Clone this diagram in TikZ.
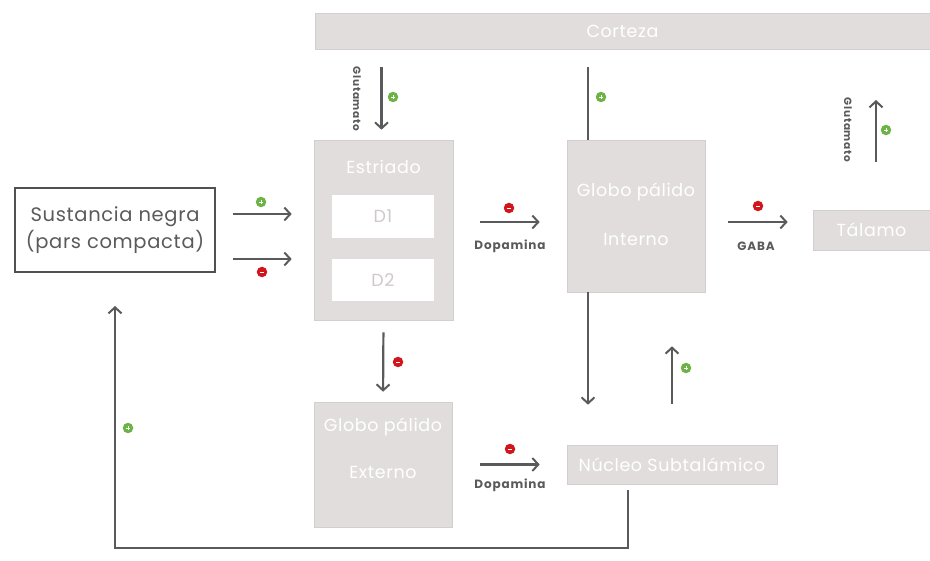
\documentclass[tikz,border=0pt]{standalone}
\usepackage{fontspec}
\setmainfont{Poppins}[LetterSpace=3.5]
\newfontfamily\lblfont[LetterSpace=7]{Poppins}
\usetikzlibrary{arrows.meta,calc}

\definecolor{boxgray}{HTML}{E1DDDC}
\definecolor{linegray}{HTML}{5A5A5C}
\definecolor{plusgreen}{HTML}{6AB344}
\definecolor{minusred}{HTML}{D0161C}

\begin{document}
\begin{tikzpicture}[x=1pt, y=-1pt, line cap=butt, line join=miter,
    graybox/.style={fill=boxgray, draw=boxgray!85!gray, line width=0.6pt, text=white, font=\fontsize{17.5}{20}\selectfont, inner sep=0pt},
    boxtext/.style={text=white, font=\fontsize{17.5}{20}\selectfont, inner sep=0pt},
    whitebox/.style={fill=white, text=boxgray!80!gray, font=\fontsize{17.5}{20}\selectfont, inner sep=0pt},
    ln/.style={draw=linegray, line width=2.2pt},
    arr/.style={ln, -{Straight Barb[length=6pt, width=13pt, line width=2pt]}},
    lbl/.style={text=linegray, font=\fontsize{12}{14}\lblfont\bfseries},
    vlbl/.style={text=linegray, font=\fontsize{10.5}{12}\lblfont\bfseries, rotate=-90},
    sign/.style={circle, inner sep=0pt, minimum size=10.5pt},
    plus/.style={sign, fill=plusgreen, path picture={
        \draw[white, line width=0.8pt] ([xshift=-2.2pt]path picture bounding box.center) -- ([xshift=2.2pt]path picture bounding box.center);
        \draw[white, line width=0.8pt] ([yshift=-2.2pt]path picture bounding box.center) -- ([yshift=2.2pt]path picture bounding box.center);}},
    minus/.style={sign, fill=minusred, path picture={
        \draw[white, line width=0.8pt] ([xshift=-2.2pt]path picture bounding box.center) -- ([xshift=2.2pt]path picture bounding box.center);}}]
    \useasboundingbox (0,0) rectangle (930,561);

    % boxes
    \node[graybox, minimum width=615, minimum height=36] (corteza) at (622.5,31) {Corteza};
    \node[draw=linegray!90!black, line width=2pt, fill=white, text=linegray, align=center, inner sep=0pt,
          minimum width=200, minimum height=84, font=\fontsize{19.5}{27}\selectfont] (sn) at (115,230) {Sustancia negra\\(pars compacta)};
    \node[graybox, minimum width=139, minimum height=180] (estriado) at (383.5,230) {};
    \node[boxtext] (estriadolbl) at (383.5,167) {Estriado};
    \node[whitebox, minimum width=102, minimum height=43] (d1) at (383,216.5) {D1};
    \node[whitebox, minimum width=102, minimum height=42] (d2) at (383,280) {D2};
    \node[graybox, minimum width=138, minimum height=152] (gpi) at (636,216) {};
    \node[boxtext] (gpilbl1) at (636,192) {Globo pálido};
    \node[boxtext] (gpilbl2) at (636,239) {Interno};
    \node[graybox, minimum width=117, minimum height=40] (talamo) at (871.5,230) {Tálamo};
    \node[graybox, minimum width=138, minimum height=125] (gpe) at (383,464.5) {};
    \node[boxtext] (gpelbl1) at (383,427) {Globo pálido};
    \node[boxtext] (gpelbl2) at (383,472) {Externo};
    \node[graybox, minimum width=210, minimum height=39] (nst) at (672,464.5) {Núcleo Subtalámico};

    % connectors
    \draw[arr, shorten <=17pt, shorten >=22pt] ([yshift=16pt]sn.east) -- ([yshift=16pt]sn.east -| estriado.west);
    \draw[arr, shorten <=17pt, shorten >=22pt] ([yshift=-29pt]sn.east) -- ([yshift=-29pt]sn.east -| estriado.west);
    \draw[arr, shorten <=18pt, shorten >=10pt] ([xshift=-2pt]estriado.north |- corteza.south) -- ([xshift=-2pt]estriado.north);
    \draw[arr, shorten <=27pt, shorten >=27pt] ([yshift=8pt]estriado.east) -- ([yshift=8pt]estriado.east -| gpi.west);
    \coordinate (gpiin) at ([xshift=-48pt]gpi.north);
    \coordinate (gpiout) at ([xshift=-48pt]gpi.south);
    \draw[ln, shorten <=18pt] (gpiin |- corteza.south) -- (gpiin);
    \draw[arr, shorten >=40pt] (gpiout) -- (gpiout |- nst.north);
    \draw[arr, shorten <=23pt, shorten >=25pt] ([yshift=-6pt]gpi.east) -- ([yshift=8pt]talamo.west);
    \coordinate (gluup) at (876,100);
    \draw[arr, shorten <=48pt] ([xshift=4.5pt]talamo.north) -- (gluup);
    \draw[arr, shorten <=12pt, shorten >=10pt] (estriado.south) -- (gpe.north);
    \draw[arr, shorten <=28pt, shorten >=27pt] (gpe.east) -- (nst.west);
    \draw[arr, shorten <=41pt, shorten >=54pt] (nst.north) -- (nst.north |- gpi.south);
    \coordinate (fbcorner) at (115,548);
    \draw[arr, shorten <=6pt, shorten >=33pt] ([xshift=-44pt]nst.south) |- (fbcorner) -- (sn.south);

    % signs
    \node[plus] (s1) at (261,202) {};
    \node[minus] (s2) at (262,272) {};
    \node[plus] (s3) at (393,97) {};
    \node[minus] (s4) at (509,208) {};
    \node[plus] (s5) at (601,97) {};
    \node[minus] (s6) at (758,206) {};
    \node[plus] (s7) at (886,130) {};
    \node[minus] (s8) at (398,362) {};
    \node[minus] (s9) at (510,449) {};
    \node[plus] (s10) at (686,368) {};
    \node[plus] (s11) at (128,428) {};

    % labels
    \node[lbl] (l1) at (510,246) {Dopamina};
    \node[lbl] (l2) at (756,246) {GABA};
    \node[lbl] (l3) at (510,485) {Dopamina};
    \node[vlbl] (l4) at (357,99) {Glutamato};
    \node[vlbl] (l5) at (848,130) {Glutamato};
\end{tikzpicture}
\end{document}
